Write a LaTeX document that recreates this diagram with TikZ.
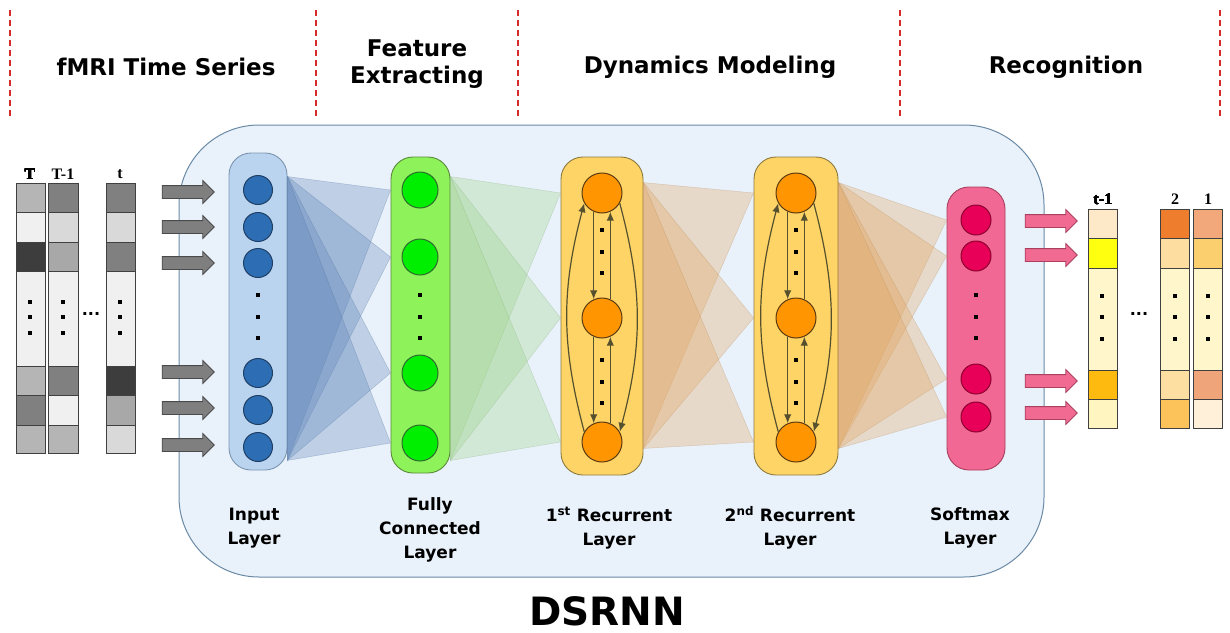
\documentclass[tikz,border=0pt]{standalone}
\usepackage{fontspec}
\setmainfont{DejaVu Sans}
\newfontfamily\numfont{Liberation Serif}
\usetikzlibrary{shapes.arrows,arrows.meta}

\definecolor{framefill}{HTML}{E9F1FA}
\definecolor{framedraw}{HTML}{6A8AA6}
\definecolor{sepred}{HTML}{D42A2A}
\definecolor{inbox}{HTML}{BAD3EE}
\definecolor{inboxline}{HTML}{7C96B2}
\definecolor{inunit}{HTML}{2D6DB3}
\definecolor{inunitline}{HTML}{1E3F66}
\definecolor{fcbox}{HTML}{8EF25A}
\definecolor{fcboxline}{HTML}{5B8A3A}
\definecolor{fcunit}{HTML}{00EE00}
\definecolor{fcunitline}{HTML}{2E6B2E}
\definecolor{recbox}{HTML}{FFD466}
\definecolor{recboxline}{HTML}{8C7A3E}
\definecolor{recunit}{HTML}{FF9500}
\definecolor{recunitline}{HTML}{5A3A12}
\definecolor{smbox}{HTML}{F26894}
\definecolor{smboxline}{HTML}{A8405E}
\definecolor{smunit}{HTML}{E80058}
\definecolor{smunitline}{HTML}{8C0030}
\definecolor{bluefan}{HTML}{5B83B8}
\definecolor{greenfan}{HTML}{9CD487}
\definecolor{orangefan}{HTML}{E2A45C}
\definecolor{recline}{HTML}{55502E}
\definecolor{grayarr}{HTML}{7F7F7F}
\definecolor{grayarrline}{HTML}{4A4A4A}
\definecolor{pinkarr}{HTML}{F06A92}
\definecolor{pinkarrline}{HTML}{A8405E}

\tikzset{
  stagesep/.style={sepred, line width=1.6pt, dash pattern=on 6pt off 4pt},
  stagehead/.style={font=\bfseries\fontsize{23}{27}\selectfont, align=center},
  layername/.style={font=\bfseries\fontsize{17}{24}\selectfont, align=center},
  netframe/.style={draw=framedraw, fill=framefill, line width=1pt, rounded corners=80pt},
  layerbox/.style={draw=#1line, fill=#1, line width=0.9pt, rounded corners=22pt, inner sep=0pt},
  neuron/.style={circle, draw=#1line, fill=#1, line width=1pt, inner sep=0pt},
  fan/.style={fill=#1, fill opacity=0.3, draw=#1!80!black, draw opacity=0.35, line width=0.4pt},
  recarrow/.style={recline, line width=1.2pt, -{Latex[length=9pt,width=7.5pt]}},
  blockarrow/.style={single arrow, draw=#1line, fill=#1, line width=0.8pt, minimum height=52pt,
    minimum width=22pt, inner sep=6pt, single arrow head extend=5pt},
  cell/.style={draw=black!75, line width=0.8pt},
  steplabel/.style={font=\numfont\bfseries\fontsize{16}{18}\selectfont},
}
\newcommand{\sqdot}[2]{\fill ({#1-1.6},{-#2-1.6}) rectangle ++(3.2,3.2);}

\begin{document}
\begin{tikzpicture}[x=1pt,y=1pt]
\useasboundingbox (0,0) rectangle (1230,-632);

% stage headings
\foreach \x in {10,316,518,900,1220} \draw[stagesep] (\x,-10) -- (\x,-118);
\node[stagehead] (hts) at (166,-67) {fMRI Time Series};
\node[stagehead] (hfe) at (417,-64) {Feature\\Extracting};
\node[stagehead] (hdm) at (710,-67) {Dynamics Modeling};
\node[stagehead] (hrc) at (1066,-67) {Recognition};

% network frame
\node[netframe, minimum width=865pt, minimum height=452pt] (net) at (611.5,-351) {};

% layers
\node[layerbox=inbox, minimum width=58pt, minimum height=317pt] (inp) at (258,-311.5) {};
\node[layerbox=fcbox, minimum width=59pt, minimum height=316pt] (fcl) at (420.5,-315) {};
\node[layerbox=recbox, minimum width=82pt, minimum height=318pt] (rec1) at (602,-316) {};
\node[layerbox=recbox, minimum width=84pt, minimum height=318pt] (rec2) at (796,-316) {};
\node[layerbox=smbox, minimum width=58pt, minimum height=283pt] (soft) at (976,-328.5) {};

\foreach \y [count=\i] in {190,227,263,373,410,447}
  \node[neuron=inunit, minimum size=29pt] (in\i) at (258,-\y) {};
\foreach \y [count=\i] in {190,257,373,443}
  \node[neuron=fcunit, minimum size=36pt] (fc\i) at (420,-\y) {};
\foreach \y [count=\i] in {193,318,442} {
  \node[neuron=recunit, minimum size=40pt] (ra\i) at (602,-\y) {};
  \node[neuron=recunit, minimum size=40pt] (rb\i) at (796,-\y) {};
}
\foreach \y [count=\i] in {220,256,379,417}
  \node[neuron=smunit, minimum size=30pt] (sm\i) at (976,-\y) {};

% full connections
\foreach \j in {1,...,4}
  \filldraw[fan=bluefan] ([yshift=-24pt]inp.north east) -- (fcl.west |- fc\j) -- ([yshift=10pt]inp.south east) -- cycle;
\foreach \j in {1,...,3}
  \filldraw[fan=greenfan] ([yshift=-20pt]fcl.north east) -- (rec1.west |- ra\j) -- ([yshift=13pt]fcl.south east) -- cycle;
\foreach \j in {1,...,3}
  \filldraw[fan=orangefan] ([yshift=-26pt]rec1.north east) -- (rec2.west |- rb\j) -- ([yshift=27pt]rec1.south east) -- cycle;
\foreach \j in {1,...,4}
  \filldraw[fan=orangefan] ([yshift=-26pt]rec2.north east) -- (soft.west |- sm\j) -- ([yshift=27pt]rec2.south east) -- cycle;

% recurrent links
\foreach \r in {a,b} {
  \draw[recarrow] (r\r1.-114) -- (r\r2.114);
  \draw[recarrow] (r\r2.66) -- (r\r1.-66);
  \draw[recarrow] (r\r2.-114) -- (r\r3.114);
  \draw[recarrow] (r\r3.66) -- (r\r2.-66);
  \draw[recarrow] (r\r3.150) to[out=105,in=255] (r\r1.210);
  \draw[recarrow] (r\r1.-30) to[out=-75,in=75] (r\r3.30);
}

% dots inside layers
\foreach \y in {295,317,338} {\sqdot{258}{\y} \sqdot{420}{\y} \sqdot{976}{\y}}
\foreach \y in {230,252,273,360,382,403} {\sqdot{602}{\y} \sqdot{796}{\y}}

% layer names
\node[layername] (lin) at (254,-528) {Input\\Layer};
\node[layername] (lfc) at (430,-530) {Fully\\Connected\\Layer};
\node[layername] (lr1) at (609,-528) {1\textsuperscript{st} Recurrent\\Layer};
\node[layername] (lr2) at (790,-528) {2\textsuperscript{nd} Recurrent\\Layer};
\node[layername] (lsm) at (970,-528) {Softmax\\Layer};
\node[font=\bfseries\fontsize{39}{44}\selectfont, inner sep=0pt, anchor=base] (title) at (607,-625) {DSRNN};

% fMRI time series
\foreach \ya/\yb/\g in {183/212/29,212/242/6,242/271/76,271/366/6,366/395/29,395/425/50,425/453/29}
  \filldraw[cell, fill=black!\g] (16,-\ya) rectangle (45,-\yb);
\foreach \ya/\yb/\g in {183/212/50,212/242/15,242/271/34,271/366/6,366/395/50,395/425/6,425/453/29}
  \filldraw[cell, fill=black!\g] (48,-\ya) rectangle (78,-\yb);
\foreach \ya/\yb/\g in {183/212/50,212/242/15,242/271/50,271/366/6,366/395/76,395/425/34,425/453/15}
  \filldraw[cell, fill=black!\g] (106,-\ya) rectangle (135,-\yb);
\foreach \x in {30,63,120} \foreach \y in {302,317,333} \sqdot{\x}{\y}
\node[steplabel] (sT) at (30,-174) {T};
\node[steplabel] (sT1) at (63,-174) {T-1};
\node[steplabel] (st) at (120,-174) {t};
\node[font=\bfseries\fontsize{16}{18}\selectfont] (sdots) at (91,-314) {...};

\foreach \y [count=\i] in {192,227,263,372,408,445}
  \node[blockarrow=grayarr] (ga\i) at (185,-\y) {};

% recognition output
\foreach \ya/\yb/\cc in {209/238/FDE8C8,238/268/FFFF10,268/370/FFF6CC,370/399/FFBA10,399/428/FFF5C0} {
  \definecolor{cellc}{HTML}{\cc}
  \filldraw[cell, fill=cellc] (1088,-\ya) rectangle (1117,-\yb);
}
\foreach \ya/\yb/\cc in {209/238/EE7D2E,238/268/FDDDA0,268/370/FFF6CC,370/399/FDDFA2,399/428/FBC35A} {
  \definecolor{cellc}{HTML}{\cc}
  \filldraw[cell, fill=cellc] (1160,-\ya) rectangle (1189,-\yb);
}
\foreach \ya/\yb/\cc in {209/238/F2A87A,238/268/FCCF6E,268/370/FFF6CC,370/399/EFA47A,399/428/FFF0DA} {
  \definecolor{cellc}{HTML}{\cc}
  \filldraw[cell, fill=cellc] (1193,-\ya) rectangle (1222,-\yb);
}
\foreach \x in {1102,1175,1208} \foreach \y in {296,317,339} \sqdot{\x}{\y}
\node[steplabel] (ot1) at (1103,-199) {t-1};
\node[steplabel] (o2) at (1175,-199) {2};
\node[steplabel] (o1) at (1208,-199) {1};
\node[font=\bfseries\fontsize{16}{18}\selectfont] (odots) at (1139,-314) {...};

\foreach \y [count=\i] in {221,255,381,413}
  \node[blockarrow=pinkarr] (pa\i) at (1048,-\y) {};
\end{tikzpicture}
\end{document}
